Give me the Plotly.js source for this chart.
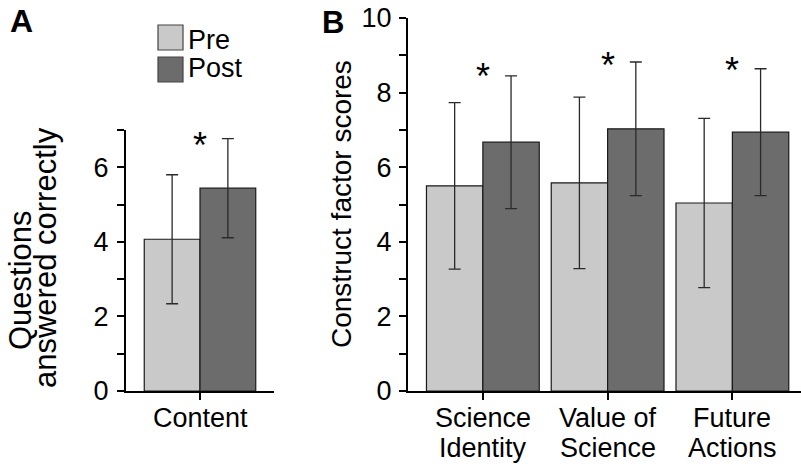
<!DOCTYPE html>
<html>
<head>
<meta charset="utf-8">
<script src="https://cdn.plot.ly/plotly-3.0.1.min.js"></script>
<style>html,body{margin:0;padding:0;background:#fff;}#chart{width:801px;height:468px;}</style>
</head>
<body>
<div id="chart"></div>
<script>
// Panel A data
const categoriesA = ['Content'];
const preA = [4.07];
const postA = [5.44];
const preErrA = [1.73];
const postErrA = [1.33];
const starA = [6.85];

// Panel B data
const categoriesB = ['Science<br>Identity', 'Value of<br>Science', 'Future<br>Actions'];
const preB = [5.50, 5.58, 5.04];
const postB = [6.67, 7.03, 6.94];
const preErrB = [2.23, 2.30, 2.27];
const postErrB = [1.78, 1.79, 1.70];
const starB = [8.69, 8.99, 8.85];

const ticksA = [0, 1, 2, 3, 4, 5, 6, 7];
const tickTextA = ['0', '', '2', '', '4', '', '6', ''];
const ticksB = [0, 1, 2, 3, 4, 5, 6, 7, 8, 9, 10];
const tickTextB = ['0', '', '2', '', '4', '', '6', '', '8', '', '10'];

const seriesNames = ['Pre', 'Post'];
const FONT = 'Liberation Sans, Arial, Helvetica, sans-serif';
const PRE_COLOR = '#c9c9c9';
const POST_COLOR = '#6c6c6c';
const TEXT_COLOR = '#000';

function barTrace(x, y, err, color, name, xa, ya) {
  return {
    type: 'bar', x: x, y: y, name: name, xaxis: xa, yaxis: ya,
    marker: {color: color, line: {color: '#1a1a1a', width: 1.2}},
    error_y: {type: 'data', array: err, visible: true, color: '#2a2a2a', thickness: 1.3, width: 6},
    showlegend: false, hoverinfo: 'skip'
  };
}

const data = [
  barTrace(categoriesA, preA, preErrA, PRE_COLOR, seriesNames[0], 'x', 'y'),
  barTrace(categoriesA, postA, postErrA, POST_COLOR, seriesNames[1], 'x', 'y'),
  barTrace(categoriesB, preB, preErrB, PRE_COLOR, seriesNames[0], 'x2', 'y2'),
  barTrace(categoriesB, postB, postErrB, POST_COLOR, seriesNames[1], 'x2', 'y2')
];

const W = 801, H = 468;
const px = v => v / W;
const py = v => (H - v) / H;

const axisCommon = {
  showline: true, linecolor: '#000', linewidth: 2, mirror: false,
  ticks: 'outside', ticklen: 7, tickwidth: 2, tickcolor: '#000',
  showgrid: false, zeroline: false,
  tickfont: {family: FONT, size: 27, color: TEXT_COLOR},
  fixedrange: true
};

const annotations = [];
// stars
categoriesA.forEach((c, i) => annotations.push({xref: 'x', yref: 'y', x: c, y: starA[i], text: '*', showarrow: false,
  font: {family: FONT, size: 36, color: '#000'}, xanchor: 'center', yanchor: 'middle', yshift: -10}));
categoriesB.forEach((c, i) => annotations.push({xref: 'x2', yref: 'y2', x: c, y: starB[i], text: '*', showarrow: false,
  font: {family: FONT, size: 36, color: '#000'}, xanchor: 'center', yanchor: 'middle', yshift: -10}));
// category labels (one annotation per line, tighter line spacing than Plotly's tick labels)
function addCatLabels(cats, xref) {
  cats.forEach(c => {
    c.split('<br>').forEach((line, j) => {
      annotations.push({xref: xref, yref: 'paper', x: c, y: py(418 + 30 * j), text: line, showarrow: false,
        font: {family: FONT, size: 27, color: TEXT_COLOR}, xanchor: 'center', yanchor: 'middle'});
    });
  });
}
addCatLabels(categoriesA, 'x');
addCatLabels(categoriesB, 'x2');
// panel letters
annotations.push({xref: 'paper', yref: 'paper', x: px(21.5), y: py(21.5), text: '<b>A</b>', showarrow: false,
  font: {family: FONT, size: 32, color: '#000'}, xanchor: 'center', yanchor: 'middle'});
annotations.push({xref: 'paper', yref: 'paper', x: px(332.5), y: py(22), text: '<b>B</b>', showarrow: false,
  font: {family: FONT, size: 31, color: '#000'}, xanchor: 'center', yanchor: 'middle'});
// y titles
annotations.push({xref: 'paper', yref: 'paper', x: px(20), y: py(280), text: 'Questions', textangle: -90, showarrow: false,
  font: {family: FONT, size: 31, color: TEXT_COLOR}, xanchor: 'center', yanchor: 'middle'});
annotations.push({xref: 'paper', yref: 'paper', x: px(45), y: py(258), text: 'answered correctly', textangle: -90, showarrow: false,
  font: {family: FONT, size: 31, color: TEXT_COLOR}, xanchor: 'center', yanchor: 'middle'});
annotations.push({xref: 'paper', yref: 'paper', x: px(341), y: py(204), text: 'Construct factor scores', textangle: -90, showarrow: false,
  font: {family: FONT, size: 28, color: TEXT_COLOR}, xanchor: 'center', yanchor: 'middle'});
// legend text
annotations.push({xref: 'paper', yref: 'paper', x: px(186), y: py(40), text: seriesNames[0], showarrow: false,
  font: {family: FONT, size: 27, color: TEXT_COLOR}, xanchor: 'left', yanchor: 'middle'});
annotations.push({xref: 'paper', yref: 'paper', x: px(186), y: py(68), text: seriesNames[1], showarrow: false,
  font: {family: FONT, size: 27, color: TEXT_COLOR}, xanchor: 'left', yanchor: 'middle'});

const shapes = [
  {type: 'rect', xref: 'paper', yref: 'paper', x0: px(158), x1: px(183), y0: py(50), y1: py(25),
   fillcolor: PRE_COLOR, line: {color: '#444', width: 1.2}},
  {type: 'rect', xref: 'paper', yref: 'paper', x0: px(158), x1: px(183), y0: py(82), y1: py(57),
   fillcolor: POST_COLOR, line: {color: '#444', width: 1.2}}
];

const layout = {
  width: W, height: H,
  margin: {l: 0, r: 0, t: 0, b: 0, pad: 0},
  paper_bgcolor: '#fff', plot_bgcolor: '#fff',
  font: {family: FONT, size: 27, color: TEXT_COLOR},
  barmode: 'group', bargap: 0.096, bargroupgap: 0,
  showlegend: false,
  xaxis: Object.assign({}, axisCommon, {domain: [px(126), px(274)], range: [-0.6, 0.6], type: 'category', anchor: 'y',
    showticklabels: false}),
  yaxis: Object.assign({}, axisCommon, {domain: [py(391), py(130)], range: [0, 7], anchor: 'x',
    tickmode: 'array', tickvals: ticksA, ticktext: tickTextA, ticklabelstandoff: 3}),
  xaxis2: Object.assign({}, axisCommon, {domain: [px(408), 1], range: [-0.6, 2.55], type: 'category', anchor: 'y2',
    showticklabels: false}),
  yaxis2: Object.assign({}, axisCommon, {domain: [py(391), py(18)], range: [0, 10], anchor: 'x2',
    tickmode: 'array', tickvals: ticksB, ticktext: tickTextB, ticklabelstandoff: 2}),
  annotations: annotations,
  shapes: shapes
};

Plotly.newPlot('chart', data, layout, {displayModeBar: false, staticPlot: true});
</script>
</body>
</html>
